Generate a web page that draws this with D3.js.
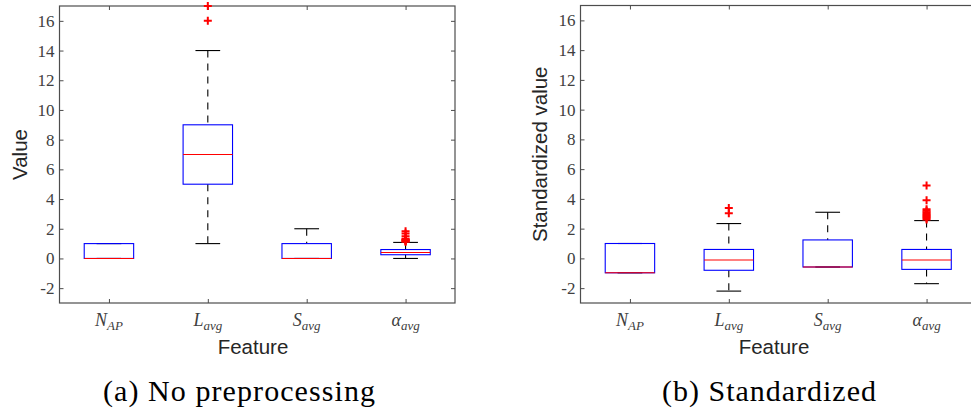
<!DOCTYPE html>
<html>
<head>
<meta charset="utf-8">
<script src="https://cdn.jsdelivr.net/npm/d3@7/dist/d3.min.js"></script>
<style>
  body { margin: 0; background: #fff; }
  svg { display: block; }
</style>
</head>
<body>
<svg id="chart" width="971" height="412"></svg>
<script>
// ---------- data ----------
const categories = ["N_AP", "L_avg", "S_avg", "alpha_avg"];
const catMain = ["N", "L", "S", "α"];
const catSub = ["AP", "avg", "avg", "avg"];
const yTicks = [-2, 0, 2, 4, 6, 8, 10, 12, 14, 16];
const yDomain = [-3, 17];

// panel (a): no preprocessing
const rawLow    = [0, 1, 0, 0];
const rawQ1     = [0, 5, 0, 0.25];
const rawMedian = [0, 7, 0, 0.4];
const rawQ3     = [1, 9, 1, 0.6];
const rawHigh   = [1, 14, 2, 1.08];
const rawOutliers = [[], [16, 17], [], [1.12, 1.16, 1.2, 1.24, 1.28, 1.32, 1.5, 1.68, 1.84]];

// panel (b): standardized
const stdLow    = [-0.97, -2.2, -0.58, -1.7];
const stdQ1     = [-0.97, -0.8, -0.58, -0.74];
const stdMedian = [-0.97, -0.11, -0.58, -0.11];
const stdQ3     = [1.0, 0.6, 1.24, 0.6];
const stdHigh   = [1.0, 2.34, 3.1, 2.54];
const stdOutliers = [[], [3.03, 3.38], [], [2.62, 2.7, 2.78, 2.86, 2.94, 3.02, 3.1, 3.2, 3.3, 3.9, 4.9]];

const panels = [
  { low: rawLow, q1: rawQ1, med: rawMedian, q3: rawQ3, high: rawHigh, out: rawOutliers,
    x0: 59.5, x1: 455, y0: 6, y1: 303, ylabel: "Value", ylabelX: 27, caption: "(a) No preprocessing",
    capX: 239, capLen: 272, featX: 253 },
  { low: stdLow, q1: stdQ1, med: stdMedian, q3: stdQ3, high: stdHigh, out: stdOutliers,
    x0: 580.5, x1: 976, y0: 5.5, y1: 303, ylabel: "Standardized value", ylabelX: 547, caption: "(b) Standardized",
    capX: 769, capLen: 214, featX: 774 }
];

const svg = d3.select("#chart");
const axisColor = "#4d4d4d";
const SERIF = '"Liberation Serif"';
const SANS = '"Liberation Sans"';

panels.forEach(p => {
  const g = svg.append("g");
  const x = d3.scalePoint().domain(categories).range([p.x0, p.x1]).padding(0.5);
  const y = d3.scaleLinear().domain(yDomain).range([p.y1, p.y0]);
  const step = x.step();

  // frame
  g.append("rect").attr("x", p.x0).attr("y", p.y0)
    .attr("width", p.x1 - p.x0).attr("height", p.y1 - p.y0)
    .attr("fill", "none").attr("stroke", axisColor).attr("stroke-width", 1.2);

  // axes (inward ticks)
  const left = g.append("g").attr("transform", `translate(${p.x0},0)`)
    .call(d3.axisLeft(y).tickValues(yTicks).tickSize(-4).tickSizeOuter(0).tickPadding(5)
      .tickFormat(d => String(d)));
  const right = g.append("g").attr("transform", `translate(${p.x1},0)`)
    .call(d3.axisRight(y).tickValues(yTicks).tickSize(-4).tickSizeOuter(0).tickFormat(""));
  const top = g.append("g").attr("transform", `translate(0,${p.y0})`)
    .call(d3.axisTop(x).tickSize(-4).tickSizeOuter(0).tickFormat(""));
  const bottom = g.append("g").attr("transform", `translate(0,${p.y1})`)
    .call(d3.axisBottom(x).tickSize(-4).tickSizeOuter(0).tickFormat(""));
  [left, right, top, bottom].forEach(a => {
    a.select(".domain").remove();
    a.selectAll(".tick line").attr("stroke", axisColor).attr("stroke-width", 1);
  });
  left.selectAll(".tick text").style("font-family", SERIF).style("font-size", "17px")
    .attr("fill", "#404040");

  // category labels (math style)
  categories.forEach((c, i) => {
    const t = g.append("text").attr("x", x(c)).attr("y", p.y1 + 23)
      .attr("text-anchor", "middle").style("font-family", SERIF)
      .style("font-style", "italic").attr("fill", "#404040");
    t.append("tspan").style("font-size", "18px").text(catMain[i]);
    t.append("tspan").style("font-size", "13px").attr("dy", 3.5).text(catSub[i]);
  });

  // axis titles
  g.append("text").attr("x", p.featX).attr("y", 354).attr("text-anchor", "middle")
    .style("font-family", SANS).style("font-size", "20.5px").attr("fill", "#262626").text("Feature");
  g.append("text").attr("transform", `translate(${p.ylabelX},${(p.y0 + p.y1) / 2}) rotate(-90)`)
    .attr("text-anchor", "middle").style("font-family", SANS).style("font-size", "20.5px")
    .attr("fill", "#262626").text(p.ylabel);

  // caption
  g.append("text").attr("x", p.capX).attr("y", 401).attr("text-anchor", "middle")
    .style("font-family", SERIF).style("font-size", "30px").attr("fill", "#000")
    .attr("textLength", p.capLen).attr("lengthAdjust", "spacing").text(p.caption);

  // boxes
  const boxW = step / 2, capW = step / 4;
  categories.forEach((c, i) => {
    const cx = x(c);
    const bg = g.append("g");
    // whiskers
    [[p.q3[i], p.high[i]], [p.low[i], p.q1[i]]].forEach(([a, b]) => {
      if (b > a) {
        bg.append("line").attr("x1", cx).attr("x2", cx).attr("y1", y(b)).attr("y2", y(a))
          .attr("stroke", "#000").attr("stroke-width", 1.1).attr("stroke-dasharray", "7,6");
      }
    });
    // caps
    [p.low[i], p.high[i]].forEach(v => {
      bg.append("line").attr("x1", cx - capW / 2).attr("x2", cx + capW / 2)
        .attr("y1", y(v)).attr("y2", y(v)).attr("stroke", "#000").attr("stroke-width", 1.1);
    });
    // box
    bg.append("rect").attr("x", cx - boxW / 2).attr("y", y(p.q3[i]))
      .attr("width", boxW).attr("height", y(p.q1[i]) - y(p.q3[i]))
      .attr("fill", "none").attr("stroke", "#0000ff").attr("stroke-width", 1.1);
    // median
    bg.append("line").attr("x1", cx - boxW / 2).attr("x2", cx + boxW / 2)
      .attr("y1", y(p.med[i])).attr("y2", y(p.med[i]))
      .attr("stroke", "#ff0000").attr("stroke-width", 1.1);
    // outliers
    p.out[i].forEach(v => {
      const oy = y(v);
      bg.append("path").attr("d", `M${cx - 4},${oy}H${cx + 4}M${cx},${oy - 4}V${oy + 4}`)
        .attr("stroke", "#ff0000").attr("stroke-width", 2).attr("fill", "none");
    });
  });
});
</script>
</body>
</html>
